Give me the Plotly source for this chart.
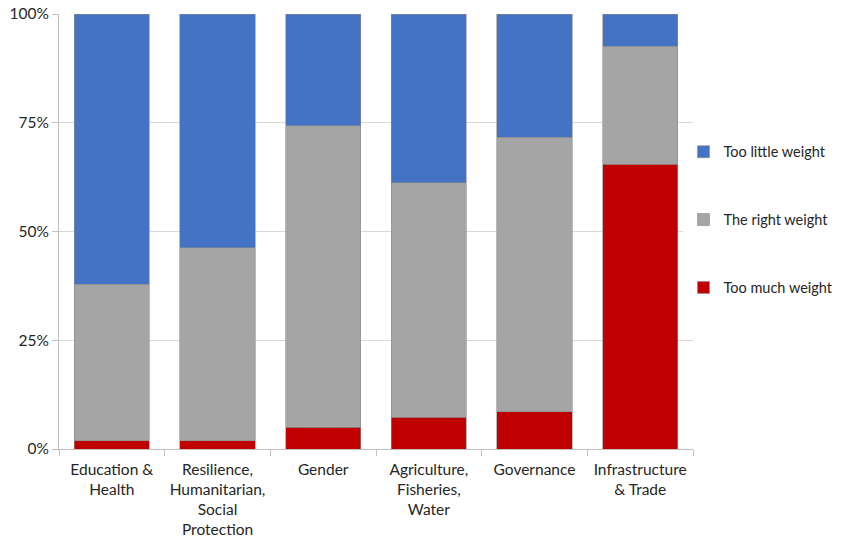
import plotly.graph_objects as go

categories = ["Education &<br>Health", "Resilience,<br>Humanitarian,<br>Social<br>Protection", "Gender",
              "Agriculture,<br>Fisheries,<br>Water", "Governance", "Infrastructure<br>& Trade"]
too_much = [1.9, 1.9, 5.0, 7.3, 8.6, 65.5]
right = [36.0, 44.4, 69.3, 53.9, 63.1, 27.1]
too_little = [62.1, 53.7, 25.7, 38.8, 28.3, 7.4]

series = [
    ("Too much weight", too_much, "#C00000", 3),
    ("The right weight", right, "#A5A5A5", 2),
    ("Too little weight", too_little, "#4472C4", 1),
]

fig = go.Figure()
for name, vals, color, rank in series:
    fig.add_trace(go.Bar(
        x=categories, y=vals, name=name, legendgroup=name, legendrank=rank,
        marker=dict(color=color, line=dict(color="#8c8c8c", width=0.6)),
    ))

font_family = "Lato, 'Open Sans', sans-serif"
fig.update_layout(
    width=841, height=542,
    barmode="stack", bargap=0.29,
    plot_bgcolor="white", paper_bgcolor="white",
    margin=dict(l=59, r=148, t=14, b=93, autoexpand=False),
    font=dict(family=font_family, size=15, color="#262626"),
    legend=dict(x=0.985, xanchor="left", y=0.72, yanchor="top",
                traceorder="grouped", tracegroupgap=46,
                font=dict(size=14.5, color="#262626"), itemwidth=30),
    yaxis=dict(range=[0, 100], tickvals=[0, 25, 50, 75, 100],
               ticktext=["0%", "25%", "50%", "75%", "100%"],
               showgrid=True, gridcolor="#d9d9d9", gridwidth=1,
               showline=True, linecolor="#bfbfbf", linewidth=1,
               ticks="outside", ticklen=6, tickcolor="#bfbfbf",
               zeroline=False, tickfont=dict(size=15.5), automargin=False),
    xaxis=dict(showline=True, linecolor="#bfbfbf", linewidth=1,
               ticks="outside", tickson="boundaries", ticklen=6, tickcolor="#bfbfbf",
               tickfont=dict(size=15.5), automargin=False, ticklabelstandoff=6),
)

fig.write_html("out.html")
